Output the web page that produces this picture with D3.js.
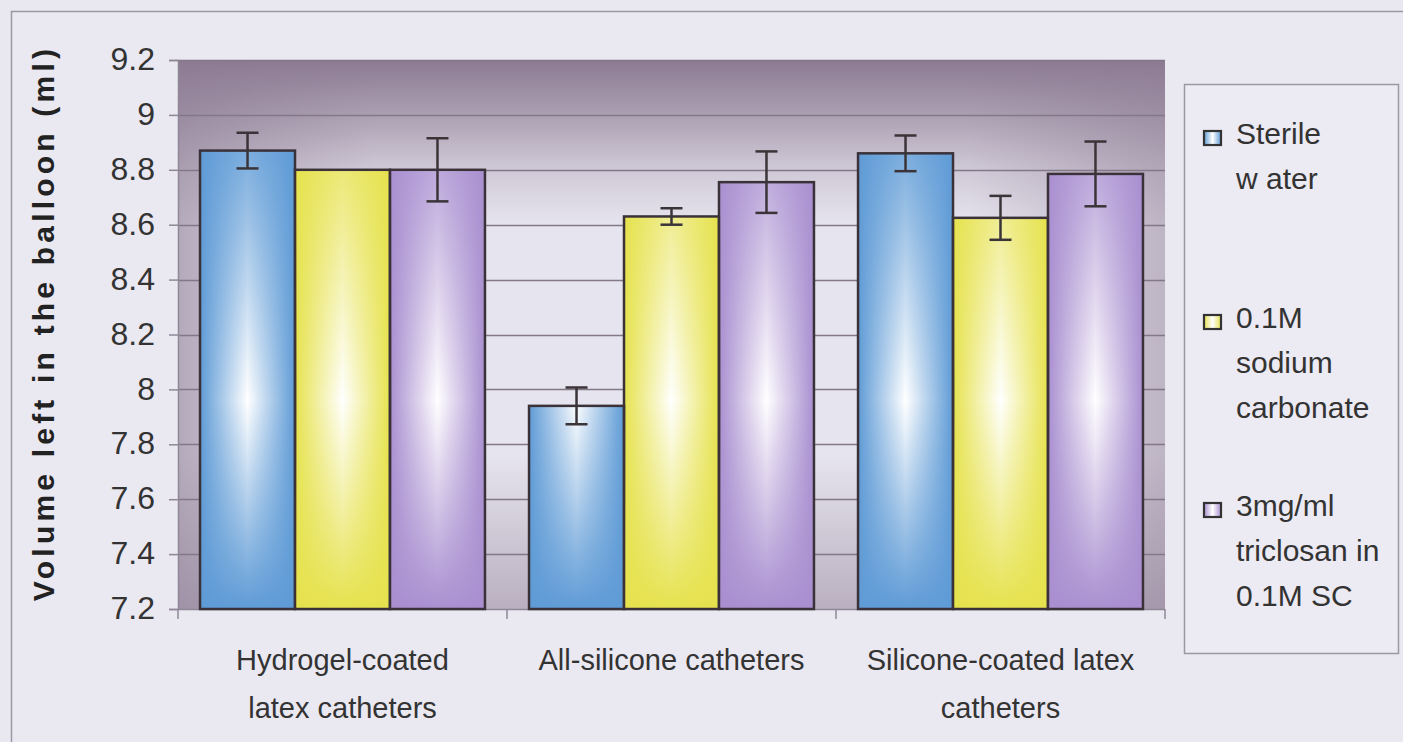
<!DOCTYPE html>
<html>
<head>
<meta charset="utf-8">
<script src="https://cdn.jsdelivr.net/npm/d3@7"></script>
<style>
  html, body { margin: 0; padding: 0; background: #e9e8f0; }
  svg { display: block; font-family: "Liberation Sans", Arial, sans-serif; }
</style>
</head>
<body>
<div id="chart"></div>
<script>
"use strict";

const categories = [
  ["Hydrogel-coated", "latex catheters"],
  ["All-silicone catheters"],
  ["Silicone-coated latex", "catheters"],
];
const seriesNames = [
  ["Sterile", "w ater"],
  ["0.1M", "sodium", "carbonate"],
  ["3mg/ml", "triclosan in", "0.1M SC"],
];
const seriesColors = ["#5f9bd6", "#e6e24e", "#a98fd0"];
const sterileWater = [8.87, 7.94, 8.86];
const sodiumCarbonate = [8.8, 8.63, 8.625];
const triclosan = [8.8, 8.755, 8.785];
const sterileWaterErr = [0.065, 0.067, 0.065];
const sodiumCarbonateErr = [0, 0.03, 0.08];
const triclosanErr = [0.115, 0.112, 0.118];
const yTicks = [7.2, 7.4, 7.6, 7.8, 8, 8.2, 8.4, 8.6, 8.8, 9, 9.2];

(function drawChart() {
  const width = 1403;
  const height = 742;
  const plot = { left: 178, top: 60, right: 1165, bottom: 609 };
  const innerW = plot.right - plot.left;
  const innerH = plot.bottom - plot.top;

  const svg = d3.select("#chart").append("svg").attr("width", width).attr("height", height);
  const defs = svg.append("defs");

  // outer chart frame
  svg.append("rect").attr("x", 11.5).attr("y", 11.5).attr("width", width + 10).attr("height", height + 10)
    .attr("fill", "#eae8f1").attr("stroke", "#9a98a2").attr("stroke-width", 1.5);

  // plot background: light centre, darker mauve edges
  const dark = "#8c7a92";
  const vBg = defs.append("linearGradient").attr("id", "bgv").attr("x1", 0).attr("y1", 0).attr("x2", 0).attr("y2", 1);
  [[0, 1], [0.1, 0.65], [0.2, 0.25], [0.3, 0], [0.72, 0], [0.86, 0.25], [1, 0.5]].forEach(([o, a]) => {
    vBg.append("stop").attr("offset", o).attr("stop-color", dark).attr("stop-opacity", a);
  });
  const hBg = defs.append("linearGradient").attr("id", "bgh").attr("x1", 0).attr("y1", 0).attr("x2", 1).attr("y2", 0);
  [[0, 0.55], [0.08, 0.3], [0.2, 0], [0.8, 0], [0.93, 0.3], [1, 0.45]].forEach(([o, a]) => {
    hBg.append("stop").attr("offset", o).attr("stop-color", dark).attr("stop-opacity", a);
  });

  const g = svg.append("g").attr("transform", `translate(${plot.left},${plot.top})`);
  g.append("rect").attr("width", innerW).attr("height", innerH).attr("fill", "#e6e4ee");
  g.append("rect").attr("width", innerW).attr("height", innerH).attr("fill", "url(#bgh)");
  g.append("rect").attr("width", innerW).attr("height", innerH).attr("fill", "url(#bgv)");

  const y = d3.scaleLinear().domain([7.2, 9.2]).range([innerH, 0]);
  const x0 = d3.scaleBand().domain(d3.range(categories.length)).range([0, innerW]).paddingInner(0).paddingOuter(0);
  const x1 = d3.scaleBand().domain(d3.range(3)).range([0, x0.bandwidth()]).paddingInner(0).paddingOuter(0.232);

  // gridlines
  g.append("g").selectAll("line").data(yTicks.slice(1)).join("line")
    .attr("x1", 0).attr("x2", innerW)
    .attr("y1", (d) => Math.round(y(d)) + 0.5).attr("y2", (d) => Math.round(y(d)) + 0.5)
    .attr("stroke", "#827888").attr("stroke-width", 1.5);

  // y axis
  const yAxis = g.append("g").call(d3.axisLeft(y).tickValues(yTicks).tickSize(9).tickPadding(14).tickFormat((d) => d3.format("~g")(d)));
  yAxis.select(".domain").attr("stroke", "#8e8896").attr("stroke-width", 1.5);
  yAxis.selectAll(".tick line").attr("stroke", "#8e8896").attr("stroke-width", 1.5);
  yAxis.selectAll(".tick text").attr("fill", "#333").attr("dy", "0.3em")
    .style("font-size", "32px").style("font-family", "Liberation Sans, Arial, sans-serif");

  // x axis
  const xAxisG = g.append("g").attr("transform", `translate(0,${innerH})`);
  xAxisG.append("line").attr("x1", 0).attr("x2", innerW).attr("y1", 0.5).attr("y2", 0.5).attr("stroke", "#8e8896").attr("stroke-width", 1.5);
  xAxisG.selectAll(".xtick").data(d3.range(categories.length + 1)).join("line")
    .attr("x1", (d) => (d < categories.length ? x0(d) : innerW)).attr("x2", (d) => (d < categories.length ? x0(d) : innerW))
    .attr("y1", 0).attr("y2", 10).attr("stroke", "#8e8896").attr("stroke-width", 1.5);
  xAxisG.selectAll(".xlabel").data(categories).join("text")
    .attr("x", (d, i) => x0(i) + x0.bandwidth() / 2)
    .attr("y", 61)
    .attr("text-anchor", "middle").attr("fill", "#333").style("font-size", "29px")
    .each(function addLines(d) {
      d3.select(this).selectAll("tspan").data(d).join("tspan")
        .attr("x", d3.select(this).attr("x")).attr("dy", (t, k) => (k === 0 ? 0 : 48)).text((t) => t);
    });

  // bar gradients
  seriesColors.forEach((c, i) => {
    const hg = defs.append("linearGradient").attr("id", `h${i}`).attr("x1", 0).attr("x2", 1).attr("y1", 0).attr("y2", 0);
    hg.append("stop").attr("offset", 0).attr("stop-color", c);
    hg.append("stop").attr("offset", 0.5).attr("stop-color", "#ffffff");
    hg.append("stop").attr("offset", 1).attr("stop-color", c);
    const vg = defs.append("linearGradient").attr("id", `v${i}`).attr("gradientUnits", "userSpaceOnUse")
      .attr("x1", 0).attr("x2", 0).attr("y1", 0).attr("y2", innerH);
    vg.append("stop").attr("offset", 0).attr("stop-color", c).attr("stop-opacity", 1);
    vg.append("stop").attr("offset", 0.18).attr("stop-color", c).attr("stop-opacity", 0.8);
    vg.append("stop").attr("offset", 0.62).attr("stop-color", c).attr("stop-opacity", 0);
    vg.append("stop").attr("offset", 0.85).attr("stop-color", c).attr("stop-opacity", 0.6);
    vg.append("stop").attr("offset", 1).attr("stop-color", c).attr("stop-opacity", 1);
  });

  const values = [sterileWater, sodiumCarbonate, triclosan];
  const errors = [sterileWaterErr, sodiumCarbonateErr, triclosanErr];
  const barData = [];
  categories.forEach((cat, ci) => {
    values.forEach((vals, si) => {
      barData.push({ ci, si, v: vals[ci], e: errors[si][ci] });
    });
  });

  const bars = g.append("g");
  const bx = (d) => x0(d.ci) + x1(d.si);
  bars.selectAll(".bar-h").data(barData).join("rect")
    .attr("x", bx).attr("y", (d) => y(d.v)).attr("width", x1.bandwidth()).attr("height", (d) => innerH - y(d.v))
    .attr("fill", (d) => `url(#h${d.si})`);
  bars.selectAll(".bar-v").data(barData).join("rect")
    .attr("x", bx).attr("y", (d) => y(d.v)).attr("width", x1.bandwidth()).attr("height", (d) => innerH - y(d.v))
    .attr("fill", (d) => `url(#v${d.si})`)
    .attr("stroke", "#3a3238").attr("stroke-width", 2.5);

  // error bars
  const errG = g.append("g").attr("stroke", "#3a3438").attr("stroke-width", 2.5);
  barData.filter((d) => d.e > 0).forEach((d) => {
    const cx = bx(d) + x1.bandwidth() / 2;
    errG.append("line").attr("x1", cx).attr("x2", cx).attr("y1", y(d.v + d.e)).attr("y2", y(d.v - d.e));
    [d.v + d.e, d.v - d.e].forEach((t) => {
      errG.append("line").attr("x1", cx - 11).attr("x2", cx + 11).attr("y1", y(t)).attr("y2", y(t));
    });
  });

  // y axis title
  svg.append("text")
    .attr("transform", "translate(54,323) rotate(-90)")
    .attr("text-anchor", "middle").attr("fill", "#222")
    .style("font-size", "30px").style("font-weight", "bold").style("letter-spacing", "4.2px")
    .text("Volume left in the balloon (ml)");

  // legend
  const lg = svg.append("g").attr("transform", "translate(1184,84)");
  lg.append("rect").attr("x", 0.5).attr("y", 0.5).attr("width", 214).attr("height", 569)
    .attr("fill", "#eceaf2").attr("stroke", "#9a98a2").attr("stroke-width", 1.5);
  const entryY = [60, 244, 432];
  seriesNames.forEach((lines, i) => {
    const eg = lg.append("g").attr("transform", `translate(0,${entryY[i]})`);
    eg.append("rect").attr("x", 20).attr("y", -13).attr("width", 17).attr("height", 14)
      .attr("fill", `url(#h${i})`).attr("stroke", "#333").attr("stroke-width", 2.2);
    eg.append("text").attr("x", 52).attr("y", 0).attr("fill", "#333").style("font-size", "30px")
      .selectAll("tspan").data(lines).join("tspan")
      .attr("x", 52).attr("dy", (t, k) => (k === 0 ? 0 : 45)).text((t) => t);
  });
})();
</script>
</body>
</html>
